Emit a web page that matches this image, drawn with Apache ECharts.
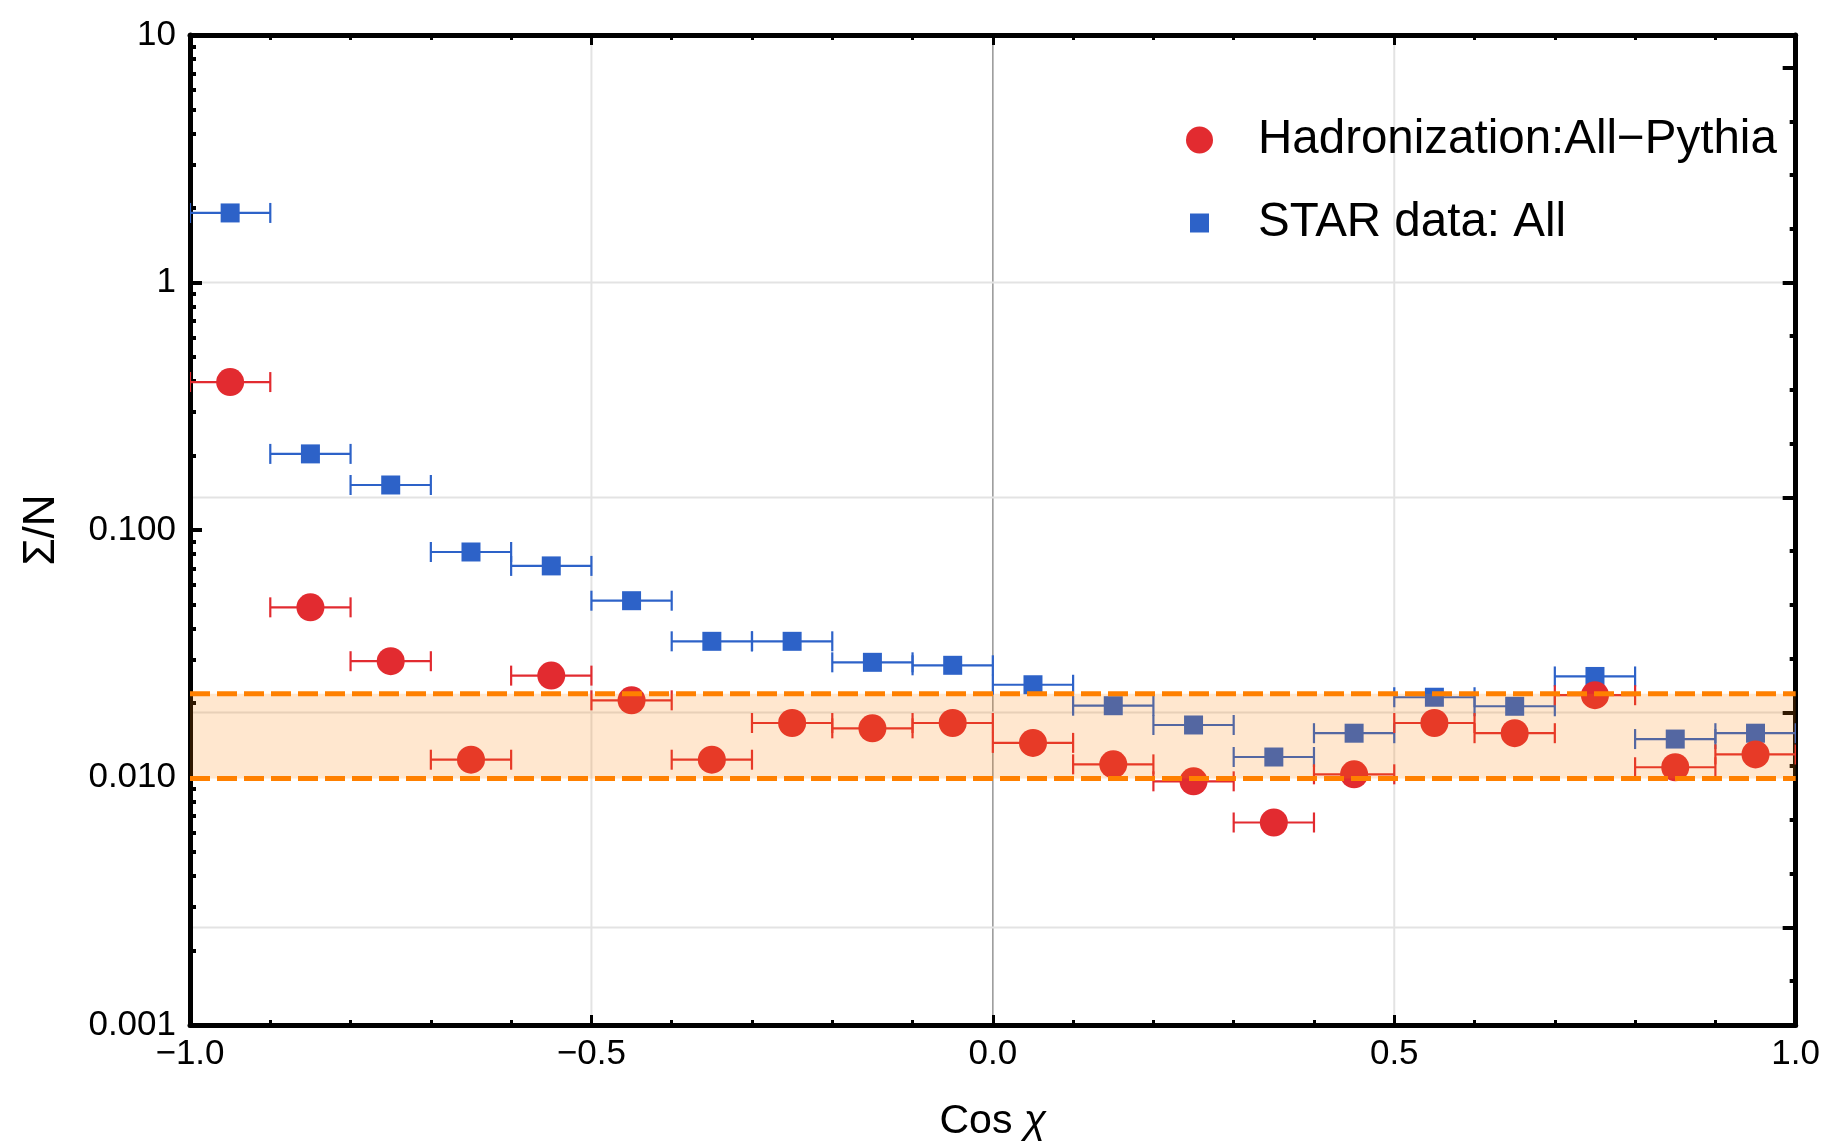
<!DOCTYPE html>
<html>
<head>
<meta charset="utf-8">
<script src="https://cdn.jsdelivr.net/npm/echarts@6/dist/echarts.min.js"></script>
<style>
html,body{margin:0;padding:0;background:#fff;}
#chart{width:1823px;height:1147px;}
</style>
</head>
<body>
<div id="chart"></div>
<script>
// ---------------- data ----------------
const binCenters = [-0.95,-0.85,-0.75,-0.65,-0.55,-0.45,-0.35,-0.25,-0.15,-0.05,
                     0.05, 0.15, 0.25, 0.35, 0.45, 0.55, 0.65, 0.75, 0.85, 0.95];
const binHalfWidth = 0.05;
const pythiaValues = [0.396, 0.0487, 0.0295, 0.0118, 0.0258, 0.0205, 0.0118, 0.0166, 0.0158, 0.0166,
                      0.0138, 0.0113, 0.00965, 0.00658, 0.0103, 0.0166, 0.0151, 0.0215, 0.0110, 0.0124];
const starValues   = [1.91, 0.203, 0.152, 0.0815, 0.0716, 0.0518, 0.0355, 0.0355, 0.0292, 0.0284,
                      0.0237, 0.0195, 0.0163, 0.0121, 0.0151, 0.0211, 0.0194, 0.0256, 0.0143, 0.0151];
const bandLow = 0.0099;
const bandHigh = 0.0218;
const seriesNames = ['Hadronization:All\u2212Pythia', 'STAR data: All'];
const xRange = [-1, 1];
const yRange = [0.001, 10];
const yMajorTicks = [0.001, 0.01, 0.1, 1, 10];
const yTickLabels = ['0.001', '0.010', '0.100', '1', '10'];
const yMinorTicks = [];
[0.001, 0.01, 0.1, 1].forEach(d => { for (let k = 2; k <= 9; k++) yMinorTicks.push(d * k); });
const lnMajorExps = [-6, -4, -2, 0, 2];
const lnMinorExps = [-6.5, -5.5, -5, -4.5, -3.5, -3, -2.5, -1.5, -1, -0.5, 0.5, 1, 1.5];
const xGridLines = [-0.5, 0.5];
const xZeroLine = [0];
const yGridLnExps = [0, -2, -4, -6];

// ---------------- styling ----------------
const FONT = "'Liberation Sans', Arial, Helvetica, sans-serif";
const RED = '#e22b30';
const BLUE = '#2d62c8';
const ORANGE = '#ff8000';

const rightMajor = lnMajorExps.map(e => Math.exp(e));
const rightMinor = lnMinorExps.map(e => Math.exp(e));
const yGridVals = yGridLnExps.map(e => Math.exp(e));

function errBarRenderer(color) {
  return function (params, api) {
    const x = api.value(0), y = api.value(1), hw = api.value(2);
    const p1 = api.coord([x - hw, y]);
    const p2 = api.coord([x + hw, y]);
    const cap = 10;
    const st = { stroke: color, lineWidth: 2.2 };
    return {
      type: 'group',
      children: [
        { type: 'line', shape: { x1: p1[0], y1: p1[1], x2: p2[0], y2: p2[1] }, style: st },
        { type: 'line', shape: { x1: p1[0], y1: p1[1] - cap, x2: p1[0], y2: p1[1] + cap }, style: st },
        { type: 'line', shape: { x1: p2[0], y1: p2[1] - cap, x2: p2[0], y2: p2[1] + cap }, style: st }
      ]
    };
  };
}

const pythiaErr = binCenters.map((x, i) => [x, pythiaValues[i], binHalfWidth]);
const starErr = binCenters.map((x, i) => [x, starValues[i], binHalfWidth]);
const pythiaPts = binCenters.map((x, i) => [x, pythiaValues[i]]);
const starPts = binCenters.map((x, i) => [x, starValues[i]]);

function baseLogAxis(extra) {
  return Object.assign({
    type: 'log', logBase: 10, min: yRange[0], max: yRange[1],
    axisLine: { show: false, onZero: false }, splitLine: { show: false },
    axisLabel: { show: false }, axisTick: { show: false }
  }, extra);
}

const option = {
  animation: false,
  backgroundColor: '#ffffff',
  grid: { left: 190, right: 27, top: 35, bottom: 120, containLabel: false },
  legend: [
    {
      data: [{ name: seriesNames[0], icon: 'circle' }],
      left: 1186, top: 116, padding: 0,
      itemWidth: 27, itemHeight: 27,
      selectedMode: false,
      textStyle: { fontFamily: FONT, fontSize: 47.5, color: '#000', padding: [0, 0, 0, 40] }
    },
    {
      data: [{ name: seriesNames[1], icon: 'rect' }],
      left: 1190, top: 199, padding: 0,
      itemWidth: 19, itemHeight: 19,
      selectedMode: false,
      textStyle: { fontFamily: FONT, fontSize: 47.5, color: '#000', padding: [0, 0, 0, 44] }
    }
  ],
  xAxis: [
    {
      type: 'value', min: xRange[0], max: xRange[1], interval: 0.5, position: 'bottom',
      name: '{a|Cos }{b|\u03c7}', nameLocation: 'middle', nameGap: 76,
      nameTextStyle: {
        rich: {
          a: { fontFamily: FONT, fontSize: 41, color: '#000' },
          b: { fontFamily: FONT, fontSize: 41, color: '#000', fontStyle: 'italic' }
        }
      },
      axisLine: { show: true, onZero: false, lineStyle: { color: '#000', width: 5 } },
      axisTick: { show: true, inside: true, length: 10, lineStyle: { color: '#000', width: 3 } },
      minorTick: { show: true, splitNumber: 5, length: 5, lineStyle: { color: '#000', width: 3 } },
      axisLabel: {
        fontFamily: FONT, fontSize: 35, color: '#000', margin: 12,
        formatter: v => v.toFixed(1).replace('-', '\u2212')
      },
      splitLine: { show: false }
    },
    {
      type: 'value', min: xRange[0], max: xRange[1], interval: 0.5, position: 'top',
      axisLine: { show: true, onZero: false, lineStyle: { color: '#000', width: 5 } },
      axisTick: { show: true, inside: true, length: 10, lineStyle: { color: '#000', width: 3 } },
      minorTick: { show: true, splitNumber: 5, length: 5, lineStyle: { color: '#000', width: 3 } },
      axisLabel: { show: false },
      splitLine: { show: false }
    }
  ],
  yAxis: [
    baseLogAxis({
      position: 'left',
      name: '\u03a3/N', nameLocation: 'middle', nameRotate: 90, nameGap: 126,
      nameTextStyle: { fontFamily: FONT, fontSize: 44, color: '#000' },
      axisLine: { show: true, onZero: false, lineStyle: { color: '#000', width: 5 } },
      axisTick: { show: true, inside: true, length: 12, customValues: yMajorTicks, lineStyle: { color: '#000', width: 4 } },
      axisLabel: {
        show: true, fontFamily: FONT, fontSize: 35, color: '#000', margin: 14,
        customValues: yMajorTicks,
        formatter: v => yTickLabels[Math.round(Math.log10(v)) + 3]
      }
    }),
    baseLogAxis({
      position: 'left',
      axisTick: { show: true, inside: true, length: 6, customValues: yMinorTicks, lineStyle: { color: '#000', width: 4 } }
    }),
    baseLogAxis({
      position: 'right',
      axisLine: { show: true, onZero: false, lineStyle: { color: '#000', width: 5 } },
      axisTick: { show: true, inside: true, length: 13, customValues: rightMajor, lineStyle: { color: '#000', width: 4 } }
    }),
    baseLogAxis({
      position: 'right',
      axisTick: { show: true, inside: true, length: 6, customValues: rightMinor, lineStyle: { color: '#000', width: 4 } }
    })
  ],
  series: [
    {
      type: 'custom', name: 'vgrid', z: 0, silent: true, clip: true,
      data: xGridLines.map(v => [v]), encode: { x: 0 },
      renderItem: (params, api) => {
        const a = api.coord([api.value(0), yRange[0]]);
        const b = api.coord([api.value(0), yRange[1]]);
        return { type: 'line', shape: { x1: a[0], y1: a[1], x2: b[0], y2: b[1] }, style: { stroke: '#e3e3e3', lineWidth: 2 } };
      }
    },
    {
      type: 'custom', name: 'zeroline', z: 0, silent: true, clip: true,
      data: xZeroLine.map(v => [v]), encode: { x: 0 },
      renderItem: (params, api) => {
        const a = api.coord([api.value(0), yRange[0]]);
        const b = api.coord([api.value(0), yRange[1]]);
        return { type: 'line', shape: { x1: a[0], y1: a[1], x2: b[0], y2: b[1] }, style: { stroke: '#9c9c9c', lineWidth: 1.6 } };
      }
    },
    {
      type: 'custom', name: 'hgrid', z: 0, silent: true, clip: true,
      data: yGridVals.map(v => [0, v]), encode: { x: 0, y: 1 },
      renderItem: (params, api) => {
        const a = api.coord([xRange[0], api.value(1)]);
        const b = api.coord([xRange[1], api.value(1)]);
        return { type: 'line', shape: { x1: a[0], y1: a[1], x2: b[0], y2: b[1] }, style: { stroke: '#e3e3e3', lineWidth: 2 } };
      }
    },
    {
      type: 'custom', name: 'starErr', z: 2, silent: true, clip: true,
      data: starErr, encode: { x: 0, y: 1 },
      renderItem: errBarRenderer(BLUE)
    },
    {
      type: 'custom', name: 'pythiaErr', z: 2, silent: true, clip: true,
      data: pythiaErr, encode: { x: 0, y: 1 },
      renderItem: errBarRenderer(RED)
    },
    {
      type: 'scatter', name: seriesNames[1], z: 3,
      data: starPts, symbol: 'rect', symbolSize: 19,
      itemStyle: { color: BLUE, opacity: 1 }
    },
    {
      type: 'scatter', name: seriesNames[0], z: 3,
      data: pythiaPts, symbol: 'circle', symbolSize: 28,
      itemStyle: { color: RED, opacity: 1 }
    },
    {
      type: 'custom', name: 'band', z: 5, silent: true, clip: true,
      data: [[xRange[0], xRange[1], bandLow, bandHigh]], encode: { x: [0, 1], y: [2, 3] },
      renderItem: (params, api) => {
        const tl = api.coord([api.value(0), api.value(3)]);
        const br = api.coord([api.value(1), api.value(2)]);
        const ds = { stroke: ORANGE, lineWidth: 5, lineDash: [20, 7] };
        return {
          type: 'group',
          children: [
            { type: 'rect', shape: { x: tl[0], y: tl[1], width: br[0] - tl[0], height: br[1] - tl[1] },
              style: { fill: 'rgba(255,128,0,0.19)' } },
            { type: 'line', shape: { x1: tl[0], y1: tl[1], x2: br[0], y2: tl[1] }, style: ds },
            { type: 'line', shape: { x1: tl[0], y1: br[1], x2: br[0], y2: br[1] }, style: ds }
          ]
        };
      }
    }
  ]
};

const chart = echarts.init(document.getElementById('chart'), null, { renderer: 'canvas' });
chart.setOption(option);
</script>
</body>
</html>
